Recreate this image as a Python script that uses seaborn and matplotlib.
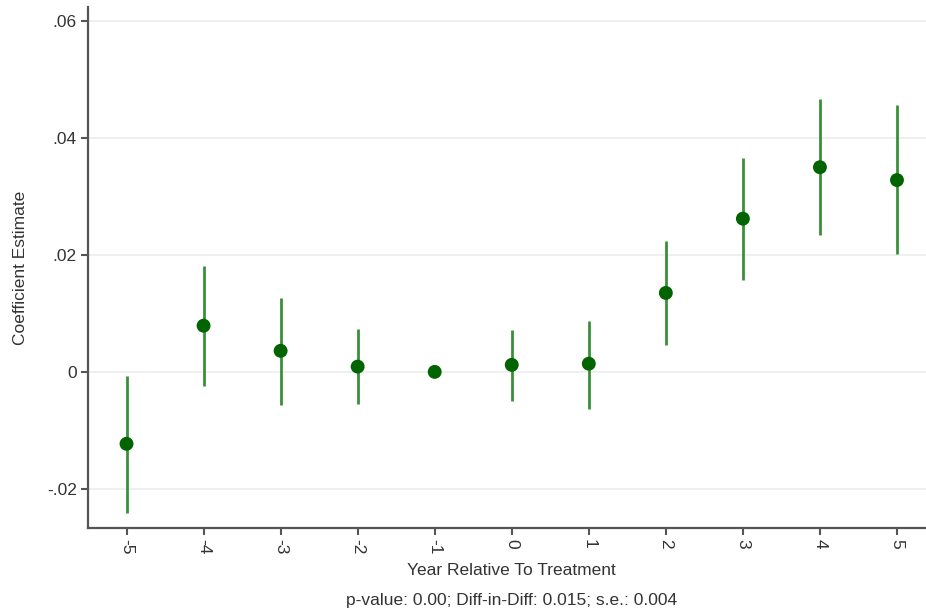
import numpy as np
import pandas as pd
import matplotlib
matplotlib.use("Agg")
import matplotlib.pyplot as plt
import seaborn as sns

# Event-study coefficients
years = [-5, -4, -3, -2, -1, 0, 1, 2, 3, 4, 5]
coef = [-0.0123, 0.0079, 0.0036, 0.0009, 0.0, 0.0012, 0.0014, 0.0135, 0.0262, 0.0350, 0.0328]
ci_low = [-0.0241, -0.0024, -0.0056, -0.0055, 0.0, -0.0050, -0.0063, 0.0046, 0.0157, 0.0234, 0.0202]
ci_high = [-0.0007, 0.0181, 0.0126, 0.0073, 0.0, 0.0072, 0.0087, 0.0224, 0.0366, 0.0467, 0.0456]
y_ticks = [-0.02, 0, 0.02, 0.04, 0.06]
y_tick_labels = ["-.02", "0", ".02", ".04", ".06"]

df = pd.DataFrame({"year": years, "coef": coef, "lo": ci_low, "hi": ci_high})

sns.set_style("white")
plt.rcParams["font.family"] = ["Liberation Sans", "DejaVu Sans"]

fig = plt.figure(figsize=(9.26, 6.16), dpi=100)
ax = fig.add_axes([88 / 926, 88 / 616, (935.5 - 88) / 926, (528 - 7) / 616])

# horizontal grid
for t in y_ticks:
    ax.axhline(t, color="#eeeeee", lw=1.3, zorder=0)

# confidence intervals
ci = df[df["hi"] > df["lo"]]
ax.vlines(ci["year"], ci["lo"], ci["hi"], color="#3a8f3a", lw=2.0, zorder=2)

# point estimates
sns.scatterplot(data=df, x="year", y="coef", color="#006400", s=100,
                edgecolor="none", zorder=3, ax=ax, legend=False)

ax.set_xlim(-5.5, 5.5)
ax.set_ylim(-0.0267, 0.0624)
ax.set_xticks(years)
ax.set_xticklabels([str(y) for y in years], rotation=-90)
ax.set_yticks(y_ticks)
ax.set_yticklabels(y_tick_labels)

for s in ["top", "right"]:
    ax.spines[s].set_visible(False)
for s in ["left", "bottom"]:
    ax.spines[s].set_color("#555555")
    ax.spines[s].set_linewidth(1.6)
ax.tick_params(axis="both", direction="out", length=5, width=1.5, color="#555555",
               labelsize=12.5, labelcolor="#333333", pad=3)
ax.tick_params(axis="x", bottom=True)
ax.tick_params(axis="y", left=True)

ax.set_ylabel("Coefficient Estimate", fontsize=12.5, color="#333333", labelpad=14)
ax.set_xlabel("Year Relative To Treatment", fontsize=12.5, color="#333333", labelpad=6)
fig.text(512 / 926, 1 - 601 / 616, "p-value: 0.00; Diff-in-Diff: 0.015; s.e.: 0.004",
         ha="center", va="center", fontsize=12.5, color="#333333")

fig.savefig("out.png", dpi=100)
